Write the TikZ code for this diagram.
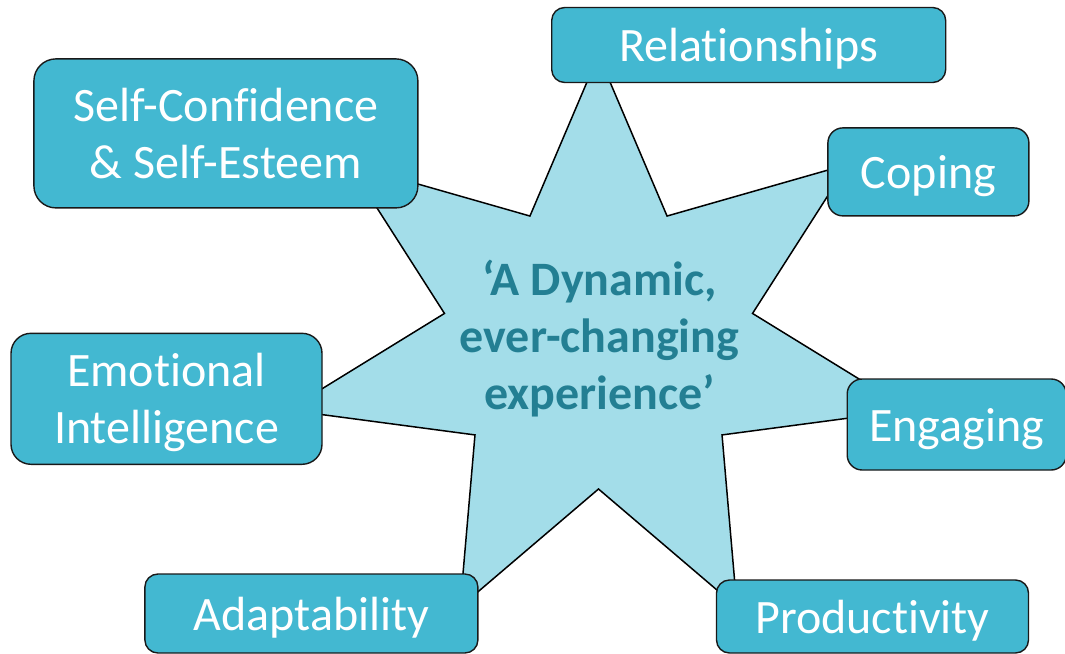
\documentclass[tikz,border=0pt]{standalone}
\usepackage{fontspec}
\setmainfont{Carlito}[Ligatures=NoCommon]
\definecolor{boxteal}{HTML}{43B8D1}
\definecolor{starblue}{HTML}{A3DDE9}
\definecolor{hubteal}{HTML}{237F93}

\begin{document}
\begin{tikzpicture}[
    x=1pt, y=-1pt,
    box/.style={draw=black!90, line width=1.4pt, rounded corners=#1, fill=boxteal, text=white, align=center,
        inner sep=0pt, text depth=0pt, font=\fontsize{48}{57}\selectfont},
    box/.default=13pt,
    burst/.style={draw=black, line width=1.5pt, fill=starblue, line join=miter},
    hub/.style={align=center, text=hubteal, text depth=0pt, font=\bfseries\fontsize{48}{57}\selectfont}]
\useasboundingbox (0,0) rectangle (1065,653);
\begin{scope}[shift={(598.5,345.4)}]
\draw[burst] (270:319 and 290.4)
    \foreach \k [evaluate=\k as \rx using {mod(\k,2)==0 ? 319 : 158},
                 evaluate=\k as \ry using {mod(\k,2)==0 ? 290.4 : 143.6}] in {1,...,13}
    { -- ({270+\k*360/14}:{\rx} and {\ry}) } -- cycle;
\end{scope}
\node[hub] (hub) at (599.5,335) {‘A Dynamic,\\ever-changing\\experience’};
\node[box, minimum width=394pt, minimum height=75pt] (rel) at (748.7,45) {Relationships};
\node[box=15pt, minimum width=201pt, minimum height=88pt] (cope) at (928.4,171.9) {Coping};
\node[box=22pt, minimum width=384pt, minimum height=149pt] (conf) at (225.9,133.4) {Self-Confidence\\\& Self-Esteem};
\node[box=20pt, minimum width=311pt, minimum height=131pt] (emo) at (166.5,398.8) {Emotional\\Intelligence};
\node[box=15pt, minimum width=219pt, minimum height=91pt] (eng) at (956.7,424.5) {Engaging};
\node[box, minimum width=333pt, minimum height=79pt] (adapt) at (311.4,613.5) {Adaptability};
\node[box, minimum width=312pt, minimum height=73pt] (prod) at (872.5,616.5) {Productivity};
\end{tikzpicture}
\end{document}
